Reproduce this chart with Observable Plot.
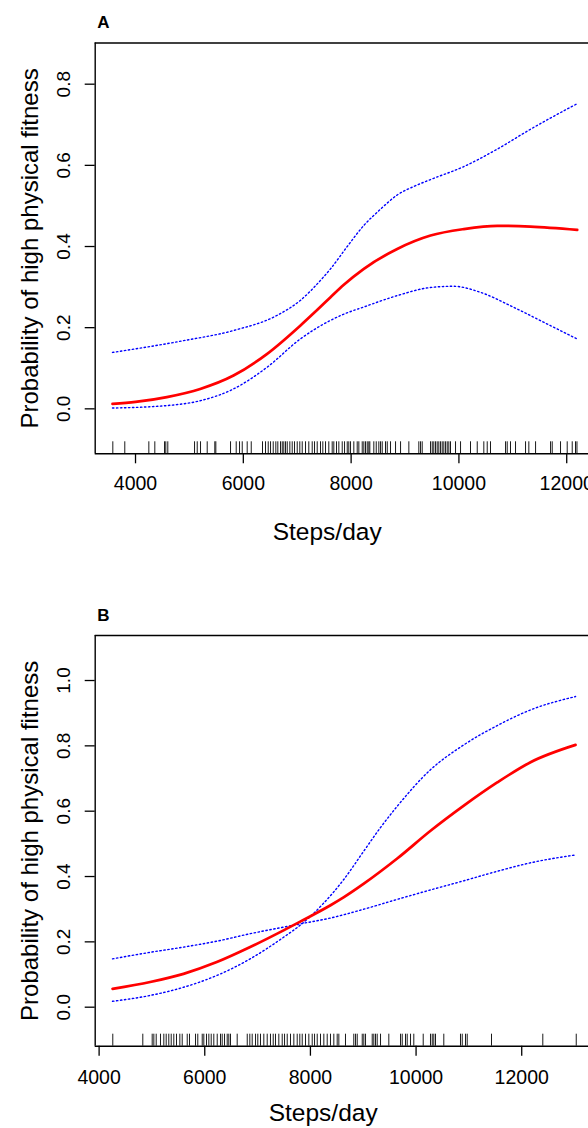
<!DOCTYPE html>
<html><head><meta charset="utf-8">
<script src="https://cdn.jsdelivr.net/npm/d3@7"></script>
<script src="https://cdn.jsdelivr.net/npm/@observablehq/plot@0.6"></script>
<style>
html,body{margin:0;padding:0;background:#fff;overflow:hidden;}
#root{position:relative;width:588px;height:1128px;}
.panel{position:absolute;left:0;}
</style></head><body><div id="root"></div>
<script>
const FONT = "'Liberation Sans', Arial, Helvetica, sans-serif";
const yTitle = "Probability of high physical fitness";
const xTitle = "Steps/day";

// ---- Panel A ----
const xTicksA = [4000, 6000, 8000, 10000, 12000];
const yTicksA = [0.0, 0.2, 0.4, 0.6, 0.8];
const fitXA = [3573, 4000, 4581, 5200, 5818, 6436, 7056, 7364, 7618, 7859, 8236, 8855, 9473, 10091, 10711, 11328, 12195];
const fitYA = [0.012, 0.017, 0.029, 0.049, 0.082, 0.135, 0.205, 0.243, 0.275, 0.305, 0.345, 0.394, 0.427, 0.443, 0.451, 0.449, 0.441];
const upXA = [3573, 4891, 5818, 6622, 7056, 7488, 7618, 7928, 8236, 8546, 8855, 9164, 9473, 10091, 10711, 11328, 12195];
const upYA = [0.139, 0.168, 0.193, 0.230, 0.267, 0.325, 0.345, 0.400, 0.452, 0.492, 0.527, 0.548, 0.565, 0.597, 0.640, 0.689, 0.752];
const loXA = [3573, 4581, 5200, 5818, 6436, 7056, 7618, 7859, 8236, 8855, 9473, 9905, 10400, 11019, 11638, 12195];
const loYA = [0.002, 0.008, 0.020, 0.049, 0.102, 0.172, 0.218, 0.233, 0.251, 0.279, 0.299, 0.302, 0.287, 0.250, 0.209, 0.172];
const rugA = [3579, 3801, 4247, 4358, 4538, 4562, 4599, 5095, 5145, 5206, 5330, 5471, 5490, 5763, 5868, 5930, 5980, 6072, 6147,
  6356, 6412, 6462, 6505, 6555, 6603, 6640, 6690, 6722, 6751, 6783, 6815, 6863, 6907, 6950, 7000, 7048, 7093, 7154, 7215, 7278,
  7321, 7371, 7432, 7475, 7525, 7586, 7649, 7679, 7729, 7772, 7835, 7878, 7928, 7957, 7989, 8050, 8113, 8143, 8206, 8236, 8267,
  8299, 8328, 8347, 8421, 8466, 8514, 8546, 8577, 8638, 8670, 8731, 8824, 8917, 9071, 9256, 9288, 9319, 9473, 9505, 9534, 9566,
  9597, 9627, 9659, 9690, 9720, 9752, 9783, 9813, 9844, 9937, 10030, 10215, 10340, 10462, 10525, 10586, 10865, 10896, 10957,
  11050, 11236, 11297, 11422, 11700, 11731, 11885, 12009, 12102, 12163, 12190];

// ---- Panel B ----
const xTicksB = [4000, 6000, 8000, 10000, 12000];
const yTicksB = [0.0, 0.2, 0.4, 0.6, 0.8, 1.0];
const fitXB = [4254, 4967, 5598, 6228, 6860, 7491, 7807, 8381, 8627, 9011, 9643, 10274, 10904, 11536, 12167, 13019];
const fitYB = [0.056, 0.077, 0.102, 0.138, 0.184, 0.235, 0.262, 0.312, 0.336, 0.378, 0.455, 0.540, 0.617, 0.688, 0.750, 0.803];
const upXB = [4254, 4967, 5598, 6228, 6860, 7491, 7837, 8248, 8627, 9011, 9327, 9643, 10274, 10904, 11536, 12167, 13019];
const upYB = [0.018, 0.036, 0.061, 0.097, 0.148, 0.214, 0.255, 0.318, 0.390, 0.478, 0.550, 0.615, 0.727, 0.803, 0.862, 0.910, 0.951];
const loXB = [4254, 4967, 5598, 6228, 6860, 7491, 7837, 8381, 9011, 9643, 10274, 10904, 11536, 12167, 13019];
const loYB = [0.148, 0.168, 0.184, 0.202, 0.225, 0.245, 0.256, 0.273, 0.300, 0.330, 0.359, 0.387, 0.416, 0.442, 0.466];
const rugB = [4259, 4827, 5005, 5036, 5081, 5162, 5225, 5270, 5319, 5365, 5414, 5465, 5528, 5573, 5668, 5711, 5825, 5868, 5952,
  5982, 6033, 6077, 6122, 6171, 6236, 6298, 6330, 6374, 6425, 6455, 6487, 6614, 6804, 6853, 6898, 6961, 7004, 7055, 7118, 7182,
  7244, 7296, 7339, 7402, 7466, 7510, 7561, 7623, 7686, 7750, 7799, 7845, 7907, 7970, 8034, 8078, 8129, 8191, 8254, 8318, 8380,
  8443, 8507, 8538, 8664, 8821, 8854, 8886, 8981, 9011, 9043, 9170, 9200, 9232, 9264, 9327, 9484, 9706, 9738, 9800, 9832, 9895,
  9957, 10135, 10273, 10306, 10336, 10368, 10525, 10841, 10874, 10936, 10968, 11428, 12399, 13032];

function pts(xs, ys) { return xs.map((x, i) => ({x, y: ys[i]})); }

function panel(p) {
  const plotH = p.height - p.marginTop - p.marginBottom;
  return Plot.plot({
    width: 588, height: p.height,
    marginTop: p.marginTop, marginBottom: p.marginBottom, marginLeft: 94.7, marginRight: 0,
    style: {fontFamily: FONT, fontSize: "19px", background: "white", color: "black", overflow: "visible"},
    x: {domain: p.xDomain},
    y: {domain: p.yDomain},
    marks: [
      Plot.tickX(p.rug, {x: d => d, stroke: "black", strokeWidth: 0.9, insetTop: plotH - 12}),
      Plot.line(pts(p.upX, p.upY), {x: "x", y: "y", stroke: "#0000ff", strokeWidth: 1.4, strokeDasharray: "1.4,2.6", curve: "monotone-x"}),
      Plot.line(pts(p.loX, p.loY), {x: "x", y: "y", stroke: "#0000ff", strokeWidth: 1.4, strokeDasharray: "1.4,2.6", curve: "monotone-x"}),
      Plot.line(pts(p.fitX, p.fitY), {x: "x", y: "y", stroke: "#ff0000", strokeWidth: 2.7, curve: "monotone-x"}),
      Plot.ruleY([p.yDomain[1]], {stroke: "black", strokeWidth: 1.4}),
      Plot.ruleY([p.yDomain[0]], {stroke: "black", strokeWidth: 1.4}),
      Plot.ruleX([p.xDomain[0]], {stroke: "black", strokeWidth: 1.4}),
      Plot.axisX(p.xTicks, {tickSize: 10, tickPadding: p.xTickPad, tickFormat: d => String(d), fontSize: 19.5, label: null, strokeWidth: 1.3}),
      Plot.axisY(p.yTicks, {tickSize: 10, tickFormat: () => "", label: null, strokeWidth: 1.3}),
      Plot.text(p.yTicks, {y: d => d, frameAnchor: "left", dx: -31, rotate: -90, text: d => d.toFixed(1), fontSize: 19, textAnchor: "middle", lineAnchor: "middle"}),
      Plot.text([yTitle], {frameAnchor: "left", dx: -65, rotate: -90, text: d => d, fontSize: 24, textAnchor: "middle", lineAnchor: "middle"}),
      Plot.text([xTitle], {frameAnchor: "bottom-left", dx: p.xTitleDx, dy: p.xTitleDy, text: d => d, fontSize: 24.5, textAnchor: "middle", lineAnchor: "middle"}),
      Plot.text([p.label], {frameAnchor: "top-left", dx: 2, dy: -20, text: d => d, fontSize: 17, fontWeight: "bold", textAnchor: "start", lineAnchor: "middle"})
    ]
  });
}

const root = document.getElementById("root");
const a = panel({
  height: 560, marginTop: 42.5, marginBottom: 106.7,
  xDomain: [3252, 12404], yDomain: [-0.1108, 0.9015],
  xTicks: xTicksA, yTicks: yTicksA, rug: rugA,
  fitX: fitXA, fitY: fitYA, upX: upXA, upY: upYA, loX: loXA, loY: loYA,
  xTitleDx: 232, xTitleDy: 78, xTickPad: 12, label: "A"
});
a.classList.add("panel"); a.style.top = "0px";
root.appendChild(a);

const b = panel({
  height: 568, marginTop: 75, marginBottom: 82.3,
  xDomain: [3926, 13264], yDomain: [-0.1194, 1.1378],
  xTicks: xTicksB, yTicks: yTicksB, rug: rugB,
  fitX: fitXB, fitY: fitYB, upX: upXB, upY: upYB, loX: loXB, loY: loYB,
  xTitleDx: 228, xTitleDy: 67, xTickPad: 14, label: "B"
});
b.classList.add("panel"); b.style.top = "560px";
root.appendChild(b);
</script></body></html>
